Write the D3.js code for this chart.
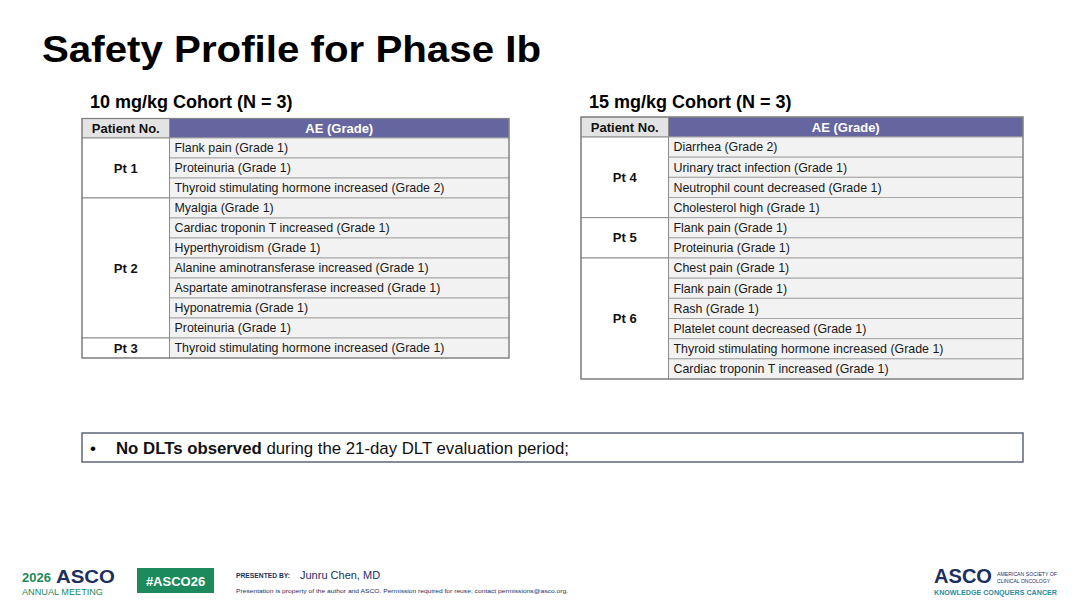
<!DOCTYPE html>
<html>
<head>
<meta charset="utf-8">
<script src="https://cdn.jsdelivr.net/npm/d3@7"></script>
<style>
  body { margin: 0; background: #fff; }
  svg { display: block; font-family: Arial, "Liberation Sans", sans-serif; }
</style>
</head>
<body>
<div id="chart"></div>
<script>
// table data
const cohort1Title = "10 mg/kg Cohort (N = 3)";
const cohort1Patients = ["Pt 1", "Pt 2", "Pt 3"];
const cohort1AEs = [
    ["Flank pain (Grade 1)", "Proteinuria (Grade 1)", "Thyroid stimulating hormone increased (Grade 2)"],
    ["Myalgia (Grade 1)", "Cardiac troponin T increased (Grade 1)", "Hyperthyroidism (Grade 1)",
     "Alanine aminotransferase increased  (Grade 1)", "Aspartate aminotransferase increased (Grade 1)",
     "Hyponatremia (Grade 1)", "Proteinuria (Grade 1)"],
    ["Thyroid stimulating hormone increased (Grade 1)"]
];

const cohort2Title = "15 mg/kg Cohort (N = 3)";
const cohort2Patients = ["Pt 4", "Pt 5", "Pt 6"];
const cohort2AEs = [
    ["Diarrhea (Grade 2)", "Urinary tract infection (Grade 1)", "Neutrophil count decreased (Grade 1)", "Cholesterol high (Grade 1)"],
    ["Flank pain (Grade 1)", "Proteinuria (Grade 1)"],
    ["Chest pain (Grade 1)", "Flank pain (Grade 1)", "Rash (Grade 1)", "Platelet count decreased (Grade 1)",
     "Thyroid stimulating hormone increased (Grade 1)", "Cardiac troponin T increased (Grade 1)"]
];

const headers = ["Patient No.", "AE (Grade)"];

const width = 1080, height = 608;
const svg = d3.select("#chart")
    .append("svg")
    .attr("width", width)
    .attr("height", height);

svg.append("text")
    .attr("x", 42).attr("y", 62)
    .attr("font-size", 36).attr("font-weight", "bold")
    .attr("fill", "#000")
    .attr("textLength", 499).attr("lengthAdjust", "spacingAndGlyphs")
    .text("Safety Profile for Phase Ib");

function drawTable(cfg) {
    const { title, patients, aes, x0, xSplit, x1, yTop, headH, yBottom, titleX, titleY } = cfg;
    const g = svg.append("g");

    g.append("text")
        .attr("x", titleX).attr("y", titleY)
        .attr("font-size", 18).attr("font-weight", "bold")
        .text(title);

    // flatten rows
    const rows = [];
    aes.forEach((list, p) => list.forEach(ae => rows.push({ p, ae })));

    const y = d3.scaleBand()
        .domain(d3.range(rows.length))
        .range([yTop + headH, yBottom]);

    // header
    g.append("rect")
        .attr("x", x0).attr("y", yTop)
        .attr("width", xSplit - x0).attr("height", headH)
        .attr("fill", "#e3e3e3").attr("stroke", "#8c8c8c");
    g.append("rect")
        .attr("x", xSplit).attr("y", yTop)
        .attr("width", x1 - xSplit).attr("height", headH)
        .attr("fill", "#65669f").attr("stroke", "#8c8c8c");
    g.append("text")
        .attr("x", (x0 + xSplit) / 2).attr("y", yTop + headH / 2 + 4.5)
        .attr("text-anchor", "middle")
        .attr("font-size", 13).attr("font-weight", "bold")
        .attr("fill", "#111")
        .text(headers[0]);
    g.append("text")
        .attr("x", (xSplit + x1) / 2).attr("y", yTop + headH / 2 + 4.5)
        .attr("text-anchor", "middle")
        .attr("font-size", 13).attr("font-weight", "bold")
        .attr("fill", "#fff")
        .text(headers[1]);

    // AE cells
    g.selectAll(".ae")
        .data(rows)
        .enter()
        .append("rect")
        .attr("x", xSplit)
        .attr("y", (d, i) => y(i))
        .attr("width", x1 - xSplit)
        .attr("height", y.bandwidth())
        .attr("fill", "#f2f2f2")
        .attr("stroke", "#a6a6a6");

    g.selectAll(".aeText")
        .data(rows)
        .enter()
        .append("text")
        .attr("x", xSplit + 5)
        .attr("y", (d, i) => y(i) + y.bandwidth() / 2 + 4.3)
        .attr("font-size", 12.4)
        .attr("fill", "#1a1a1a")
        .text(d => d.ae);

    // patient cells
    let start = 0;
    patients.forEach((pt, p) => {
        const n = aes[p].length;
        const top = y(start), bottom = y(start + n - 1) + y.bandwidth();
        g.append("rect")
            .attr("x", x0).attr("y", top)
            .attr("width", xSplit - x0).attr("height", bottom - top)
            .attr("fill", "#fff").attr("stroke", "#8c8c8c");
        g.append("text")
            .attr("x", (x0 + xSplit) / 2).attr("y", (top + bottom) / 2 + 4.5)
            .attr("text-anchor", "middle")
            .attr("font-size", 13).attr("font-weight", "bold")
            .attr("fill", "#111")
            .text(pt);
        start += n;
    });

    // outer frame
    g.append("rect")
        .attr("x", x0).attr("y", yTop)
        .attr("width", x1 - x0).attr("height", yBottom - yTop)
        .attr("fill", "none").attr("stroke", "#808080").attr("stroke-width", 1.2);
}

drawTable({
    title: cohort1Title, patients: cohort1Patients, aes: cohort1AEs,
    x0: 82, xSplit: 169.5, x1: 509, yTop: 118.5, headH: 19.5, yBottom: 358,
    titleX: 90, titleY: 108
});

drawTable({
    title: cohort2Title, patients: cohort2Patients, aes: cohort2AEs,
    x0: 581, xSplit: 668.5, x1: 1023, yTop: 117, headH: 20, yBottom: 379,
    titleX: 589, titleY: 108
});

// bullet box
svg.append("rect")
    .attr("x", 82).attr("y", 433)
    .attr("width", 941).attr("height", 29)
    .attr("fill", "#fff")
    .attr("stroke", "#5d6579").attr("stroke-width", 1.5);
svg.append("text")
    .attr("x", 90).attr("y", 453.5)
    .attr("font-size", 17)
    .text("•");
const bullet = svg.append("text")
    .attr("x", 116).attr("y", 453.5)
    .attr("font-size", 16.8).attr("fill", "#111");
bullet.append("tspan").attr("font-weight", "bold").text("No DLTs observed");
bullet.append("tspan").text(" during the 21-day DLT evaluation period;");

// footer
const navy = "#1c2f5e", green = "#1c8a5c", teal = "#2b8ca3";
svg.append("text")
    .attr("x", 22).attr("y", 582)
    .attr("font-size", 13).attr("font-weight", "bold").attr("fill", green)
    .text("2026");
svg.append("text")
    .attr("x", 56).attr("y", 582.5)
    .attr("font-size", 19).attr("font-weight", "bold").attr("fill", navy)
    .attr("textLength", 59).attr("lengthAdjust", "spacingAndGlyphs")
    .text("ASCO");
svg.append("text")
    .attr("x", 22).attr("y", 595)
    .attr("font-size", 9).attr("fill", green)
    .attr("textLength", 81).attr("lengthAdjust", "spacingAndGlyphs")
    .text("ANNUAL MEETING");

svg.append("rect")
    .attr("x", 137).attr("y", 568)
    .attr("width", 77).attr("height", 25)
    .attr("fill", green);
svg.append("text")
    .attr("x", 175.5).attr("y", 585.5)
    .attr("text-anchor", "middle")
    .attr("font-size", 13).attr("font-weight", "bold").attr("fill", "#fff")
    .text("#ASCO26");

svg.append("text")
    .attr("x", 236).attr("y", 578)
    .attr("font-size", 6.5).attr("font-weight", "bold").attr("fill", navy)
    .attr("textLength", 54).attr("lengthAdjust", "spacingAndGlyphs")
    .text("PRESENTED BY:");
svg.append("text")
    .attr("x", 300).attr("y", 579)
    .attr("font-size", 11).attr("fill", navy)
    .text("Junru Chen, MD");
svg.append("text")
    .attr("x", 236).attr("y", 593)
    .attr("font-size", 6).attr("fill", navy)
    .attr("textLength", 332).attr("lengthAdjust", "spacingAndGlyphs")
    .text("Presentation is property of the author and ASCO. Permission required for reuse; contact permissions@asco.org.");

svg.append("text")
    .attr("x", 934).attr("y", 583)
    .attr("font-size", 21).attr("font-weight", "bold").attr("fill", navy)
    .attr("textLength", 58).attr("lengthAdjust", "spacingAndGlyphs")
    .text("ASCO");
svg.append("text")
    .attr("x", 997).attr("y", 576)
    .attr("font-size", 5.5).attr("fill", navy)
    .attr("textLength", 60).attr("lengthAdjust", "spacingAndGlyphs")
    .text("AMERICAN SOCIETY OF");
svg.append("text")
    .attr("x", 997).attr("y", 582.5)
    .attr("font-size", 5.5).attr("fill", navy)
    .attr("textLength", 53).attr("lengthAdjust", "spacingAndGlyphs")
    .text("CLINICAL ONCOLOGY");
svg.append("text")
    .attr("x", 934).attr("y", 595)
    .attr("font-size", 7).attr("font-weight", "bold").attr("fill", teal)
    .attr("textLength", 123).attr("lengthAdjust", "spacingAndGlyphs")
    .text("KNOWLEDGE CONQUERS CANCER");
</script>
</body>
</html>
